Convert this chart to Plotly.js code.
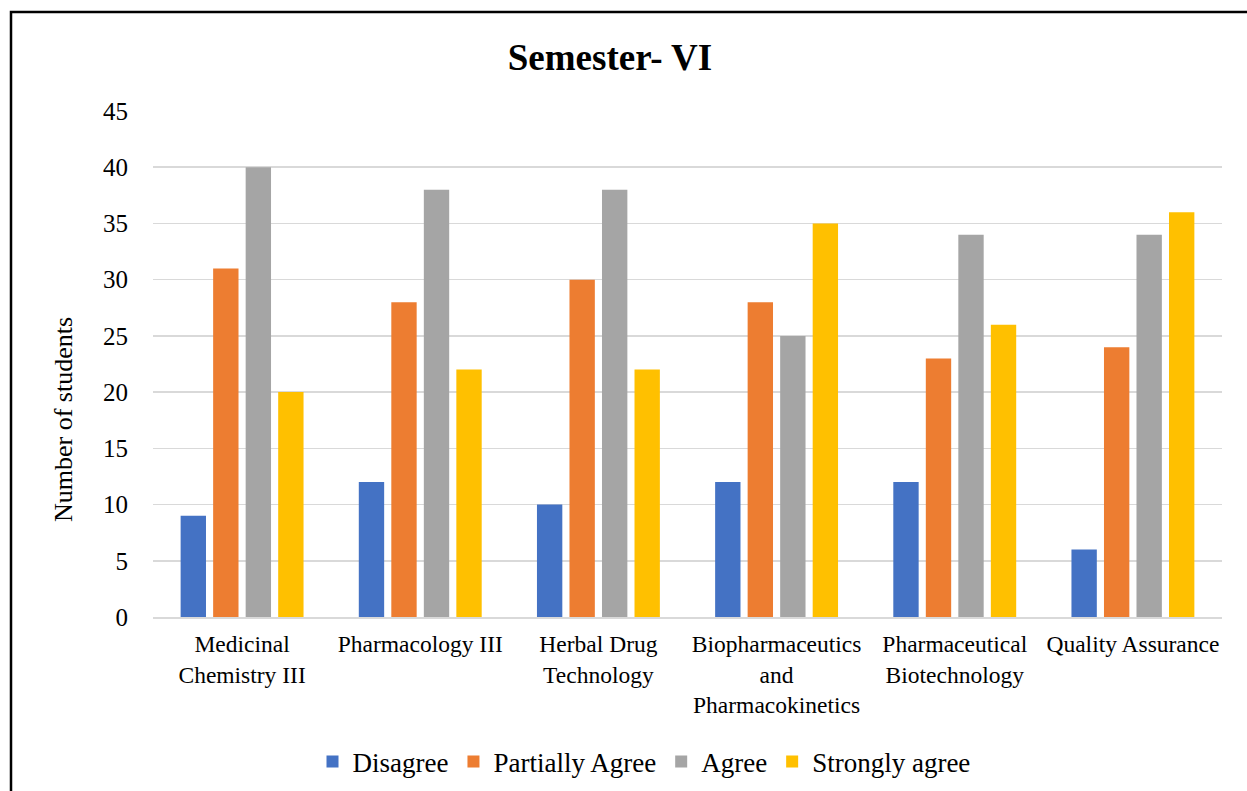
<!DOCTYPE html>
<html>
<head>
<meta charset="utf-8">
<script src="https://cdn.plot.ly/plotly-3.0.1.min.js"></script>
<style>html,body{margin:0;padding:0;background:#fff;}#chart{width:1247px;height:791px;}</style>
</head>
<body>
<div id="chart"></div>
<script>
const categories = ["Medicinal<br>Chemistry III", "Pharmacology III", "Herbal Drug<br>Technology", "Biopharmaceutics<br>and<br>Pharmacokinetics", "Pharmaceutical<br>Biotechnology", "Quality Assurance"];
const seriesNames = ["Disagree", "Partially Agree", "Agree", "Strongly agree"];
const disagree = [9, 12, 10, 12, 12, 6];
const partiallyAgree = [31, 28, 30, 28, 23, 24];
const agree = [40, 38, 38, 25, 34, 34];
const stronglyAgree = [20, 22, 22, 35, 26, 36];
const colors = ["#4472C4", "#ED7D31", "#A5A5A5", "#FFC000"];
const yTicks = [0, 5, 10, 15, 20, 25, 30, 35, 40, 45];

const font = "Liberation Serif, Times New Roman, serif";
const values = [disagree, partiallyAgree, agree, stronglyAgree];
const traces = values.map((v, i) => ({
  type: "bar", name: seriesNames[i], x: categories, y: v,
  marker: {color: colors[i]}, hoverinfo: "y"
}));

const W = 1247, H = 791, L = 153, R = 25, T = 111, B = 174;
const pw = W - L - R, ph = H - T - B;
const px = v => (v - L) / pw;
const py = v => (H - B - v) / ph;

const layout = {
  width: W, height: H,
  margin: {l: L, r: R, t: T, b: B},
  paper_bgcolor: "#fff", plot_bgcolor: "#fff",
  font: {family: font, color: "#000", size: 22},
  title: {text: "<b>Semester- VI</b>", font: {family: font, size: 37, color: "#000"},
          xref: "container", x: 610 / W, xanchor: "center", yref: "container", y: 1 - 57 / H, yanchor: "middle"},
  barmode: "group", bargap: 0.27, bargroupgap: 0.22,
  xaxis: {tickfont: {family: font, size: 23.5, color: "#000"}, showline: true, linecolor: "#d9d9d9", linewidth: 2,
          ticks: "", ticklabelstandoff: 5, automargin: false, fixedrange: true},
  yaxis: {range: [0, 45], tickvals: yTicks, ticktext: yTicks.map(String), tickfont: {family: font, size: 25, color: "#000"},
          showgrid: true, gridcolor: "#d9d9d9", gridwidth: 1.5, zeroline: false, showline: false, ticks: "",
          ticklabelstandoff: 24, automargin: false, fixedrange: true},
  annotations: [{text: "Number of students", textangle: -90, xref: "paper", yref: "paper",
                 x: px(63), y: py(420), xanchor: "center", yanchor: "middle", showarrow: false,
                 font: {family: font, size: 26, color: "#000"}}],
  legend: {orientation: "h", xref: "container", yref: "container", x: 644 / W, xanchor: "center",
           y: 1 - 762 / H, yanchor: "middle", font: {family: font, size: 27, color: "#000"},
           itemwidth: 30, tracegroupgap: 0},
  shapes: [{type: "rect", xref: "paper", yref: "paper", x0: px(11), x1: px(1262), y0: py(805), y1: py(12),
            line: {color: "#000", width: 2.5}, fillcolor: "rgba(0,0,0,0)", layer: "above"}],
  showlegend: true
};

Plotly.newPlot("chart", traces, layout, {displayModeBar: false, staticPlot: true});
</script>
</body>
</html>
